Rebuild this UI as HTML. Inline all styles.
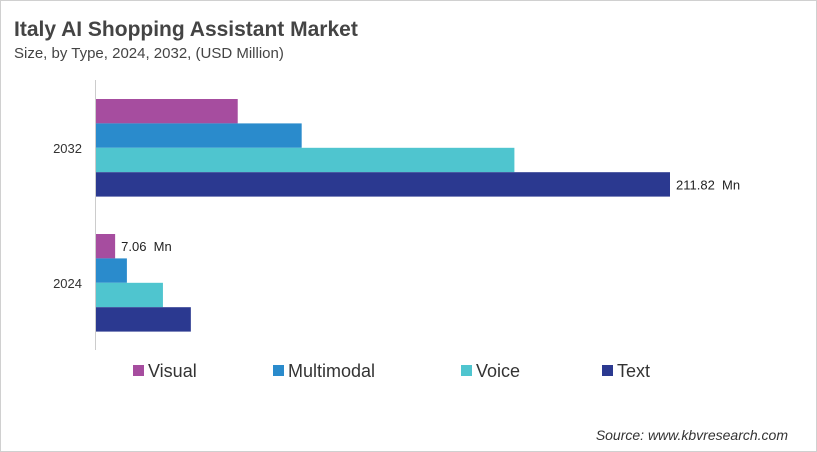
<!DOCTYPE html>
<html><head><meta charset="utf-8"><style>
body{margin:0;width:817px;height:452px;overflow:hidden;background:#fff;font-family:"Liberation Sans",sans-serif}
#frame{position:absolute;left:0;top:0;width:815px;height:450px;border:1px solid #d0d0d0}
</style></head><body>
<div id="frame"></div>
<svg id="chart" width="817" height="452" style="position:absolute;left:0;top:0">
<text x="14" y="36" font-size="21" font-weight="bold" fill="#444">Italy AI Shopping Assistant Market</text>
<text x="14" y="58" font-size="15" fill="#444">Size, by Type, 2024, 2032, (USD Million)</text>
<line x1="95.5" y1="80" x2="95.5" y2="350" stroke="#ccc"/>
<g id="bars"></g>
<g id="legend"></g>
<text x="788" y="440" font-size="14" font-style="italic" fill="#333" text-anchor="end">Source: www.kbvresearch.com</text>
</svg>
<script>
const categories=["2032","2024"];
const seriesNames=["Visual","Multimodal","Voice","Text"];
const colors=["#a64d9f","#2a8bcc","#4fc5cf","#2b3990"];
const values2032=[52.3,75.9,154.4,211.82];
const values2024=[7.06,11.4,24.7,35.0];
const labels2032=["","","","211.82  Mn"];
const labels2024=["7.06  Mn","","",""];
const allValues=[values2032,values2024];
const allLabels=[labels2032,labels2024];
const NS="http://www.w3.org/2000/svg";
const x0=96, scale=574/211.82;
const xPos=v=>x0+v*scale;
const groupTop=[99,234], barH=24.4;
const g=document.getElementById('bars');
categories.forEach((c,ci)=>{
  const t=document.createElementNS(NS,'text');
  t.setAttribute('x',82);t.setAttribute('y',groupTop[ci]+barH*2+5);
  t.setAttribute('text-anchor','end');t.setAttribute('font-size',13);t.setAttribute('fill','#333');
  t.textContent=c;
  
  
  g.appendChild(t);
  allValues[ci].forEach((v,si)=>{
    const r=document.createElementNS(NS,'rect');
    const y=groupTop[ci]+si*barH;
    r.setAttribute('x',x0);r.setAttribute('y',y);
    r.setAttribute('width',xPos(v)-x0);r.setAttribute('height',barH);
    r.setAttribute('fill',colors[si]);
    
    
    g.appendChild(r);
    const lb=allLabels[ci][si];
    if(lb){
      const l=document.createElementNS(NS,'text');
      l.setAttribute('x',xPos(v)+6);l.setAttribute('y',y+barH/2+5);
      l.setAttribute('font-size',13);l.setAttribute('fill','#222');
      l.setAttribute('xml:space','preserve');l.style.whiteSpace='pre';
      l.textContent=lb;
      
      
      g.appendChild(l);
    }
  });
});
const lg=document.getElementById('legend');
const lx=[133,273,461,602];
seriesNames.forEach((n,i)=>{
  const r=document.createElementNS(NS,'rect');
  r.setAttribute('x',lx[i]);r.setAttribute('y',365);r.setAttribute('width',11);r.setAttribute('height',11);
  r.setAttribute('fill',colors[i]);
  
  
  lg.appendChild(r);
  const t=document.createElementNS(NS,'text');
  t.setAttribute('x',lx[i]+15);t.setAttribute('y',377);t.setAttribute('font-size',18);t.setAttribute('fill','#333');
  t.textContent=n;
  
  
  lg.appendChild(t);
});
</script>
</body></html>
